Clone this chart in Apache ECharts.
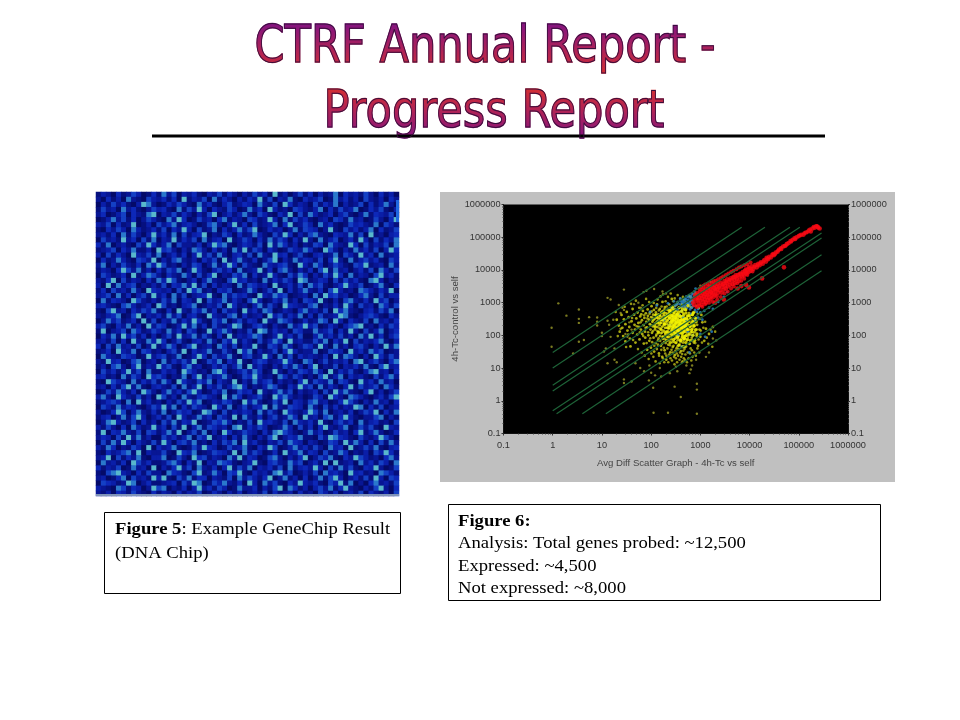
<!DOCTYPE html>
<html><head><meta charset="utf-8">
<style>html,body{margin:0;padding:0;background:#fff}#c{width:960px;height:720px}</style>
<script src="https://cdn.jsdelivr.net/npm/echarts@6/dist/echarts.min.js"></script>
</head><body><div id="c"></div>
<script>
const titleLines = ["CTRF Annual Report -", "Progress Report"];
const tickLabels = ["0.1","1","10","100","1000","10000","100000","1000000"];
const xAxisName = "Avg Diff Scatter Graph - 4h-Tc vs self";
const yAxisName = "4h-Tc-control vs self";
const caption5 = ["{b|Figure 5}: Example GeneChip Result", "(DNA Chip)"];
const caption6 = ["{b|Figure 6:}", "Analysis: Total genes probed: ~12,500", "Expressed: ~4,500", "Not expressed: ~8,000"];
const guideLines = [
 [[1,30],[6900,200000]],
 [[1,10],[20500,200000]],
 [[1,3],[66000,200000]],
 [[1,2],[105000,200000]],
 [[1,0.5],[290000,135000]],
 [[1.2,0.4],[290000,95000]],
 [[4,0.4],[290000,29000]],
 [[12,0.4],[290000,9500]]
];
const sparsePoints = [[0.95,45],[0.95,170],[1.3,950],[1.9,400],[3.4,620],[3.4,320],[3.4,240],[3.4,64],[4.3,72],[5.5,360],[2.6,28],[8,350],[8,260],[8,200],[10,120],[10,95],[11,32],[13,1400],[15,1250],[13,280],[14,210],[12,40],[13,14],[15,90],[17,300],[18,40],[18,18],[20,15],[22,850],[24,480],[26,700],[28,2500],[28,600],[28,4.5],[28,3.5],[30,110],[33,90],[36,250],[40,3.9],[40,150],[45,900],[48,14],[55,1000],[60,10],[62,700],[70,2100],[72,8],[80,2300],[90,4.2],[92,12],[100,7.2],[110,2.5],[112,0.43],[115,2600],[120,6],[150,10],[160,5.5],[170,2200],[200,1900],[220,0.43],[240,7],[300,2.7],[320,11],[340,8],[400,1.3],[420,15],[520,12],[600,7],[640,9],[680,12],[850,0.4],[850,3.3],[850,2.2],[820,18],[1000,3300],[1300,22],[1800,80],[2100,70],[1600,4300],[1500,30]];
const yellowPoints = [[20,300],[22,200],[23,130],[25,420],[26,170],[27,95],[28,310],[30,220],[30,65],[32,520],[33,140],[35,360],[36,180],[37,80],[38,46],[40,270],[42,640],[42,120],[45,430],[46,210],[47,150],[48,60],[50,330],[52,105],[53,500],[55,240],[56,180],[58,75],[60,380],[62,150],[63,440],[65,290],[66,110],[68,560],[70,205],[71,56],[73,340],[75,130],[76,85],[78,470],[80,260],[82,175],[83,36],[85,620],[86,395],[88,100],[90,300],[92,68],[94,220],[95,510],[97,150],[99,42],[100,360],[102,780],[104,120],[106,260],[108,190],[110,430],[112,85],[114,600],[115,32],[118,320],[120,150],[122,230],[124,58],[125,500],[128,105],[130,380],[132,880],[134,180],[136,270],[138,70],[140,440],[142,130],[144,28],[146,340],[148,205],[150,640],[152,95],[154,300],[156,160],[158,48],[160,480],[162,240],[164,120],[166,360],[168,22],[170,1050],[172,190],[174,78],[176,560],[178,280],[180,140],[182,410],[184,62],[186,220],[188,35],[190,730],[192,320],[194,105],[196,170],[198,480],[200,260],[203,18],[206,390],[209,130],[212,88],[215,600],[218,210],[221,300],[224,52],[227,160],[230,440],[233,880],[236,110],[239,250],[242,340],[245,30],[248,190],[251,520],[254,75],[257,140],[260,410],[263,1300],[266,230],[269,100],[272,300],[275,44],[278,640],[281,170],[284,360],[287,65],[290,210],[293,480],[296,120],[299,270],[302,25],[305,800],[308,150],[311,390],[314,85],[317,220],[320,560],[323,320],[326,110],[329,40],[332,180],[335,450],[338,260],[341,1000],[344,70],[347,140],[350,350],[355,200],[360,680],[365,95],[370,280],[375,52],[380,420],[385,160],[390,240],[395,130],[400,540],[405,33],[410,310],[415,80],[420,190],[425,900],[430,380],[435,115],[440,230],[445,60],[450,470],[455,150],[460,280],[465,1200],[470,95],[475,340],[480,175],[485,720],[490,44],[495,250],[500,130],[510,600],[520,210],[530,70],[540,390],[550,150],[560,290],[570,900],[580,105],[590,480],[600,200],[610,55],[620,330],[630,1500],[640,125],[650,240],[660,700],[670,85],[680,420],[690,160],[700,1100],[720,270],[740,60],[760,520],[780,130],[800,1900],[820,330],[840,95],[860,210],[880,1300],[900,48],[930,680],[960,150],[1000,90],[1050,420],[1100,250],[1200,68],[1300,160],[1500,110],[1800,180]];
const yellowExtra = [[19,520],[21,95],[24,160],[29,750],[31,44],[34,105],[39,920],[41,340],[43,72],[49,1150],[51,190],[54,38],[57,700],[59,125],[61,250],[64,30],[67,830],[69,95],[72,410],[74,24],[77,170],[79,1300],[81,58],[84,330],[87,125],[89,19],[91,1050],[93,460],[96,82],[98,210],[101,28],[103,540],[105,62],[107,350],[109,135],[111,22],[113,980],[116,48],[119,200],[121,420],[123,16],[126,95],[127,690],[129,260],[131,38],[133,135],[135,1250],[137,52],[139,320],[141,82],[143,580],[145,24],[147,165],[149,14],[151,420],[153,68],[155,1550],[157,240],[159,115],[161,36],[163,760],[165,180],[167,55],[169,300],[171,90],[173,20],[175,1800],[177,130],[179,420],[181,42],[183,240],[185,15],[187,640],[189,78],[191,170],[193,28],[195,360],[197,1100],[199,58],[201,130],[204,24],[207,760],[211,230],[214,40],[217,110],[220,1500],[223,15],[226,70],[229,340],[232,26],[235,195],[238,600],[241,50],[244,125],[247,20],[250,1900],[253,92],[256,270],[259,36],[262,155],[265,17],[268,720],[271,62],[274,210],[277,30],[280,1100],[283,105],[286,48],[289,390],[292,22],[295,150],[298,13],[301,1350],[304,78],[307,240],[310,34],[313,560],[316,120],[319,20],[322,185],[325,58],[328,850],[331,28],[334,125],[337,15],[340,300],[343,46],[346,1700],[349,90],[352,24],[357,150],[362,38],[367,440],[372,75],[377,18],[382,205],[387,30],[392,1300],[397,62],[402,125],[407,22],[412,760],[417,45],[422,170],[427,27],[432,95],[437,16],[442,1500],[447,230],[452,34],[457,70],[462,20],[467,125],[472,600],[477,38],[482,18],[487,210],[492,80],[497,26],[505,1000],[515,46],[525,120],[535,15],[545,260],[555,30],[565,90],[575,20],[585,1600],[595,55],[605,150],[615,28],[625,750],[635,40],[645,105],[655,17],[665,210],[675,35],[685,70],[695,22],[710,500],[730,120],[750,30],[770,250],[790,58],[810,24],[830,800],[850,150],[870,40],[890,450],[920,75],[950,30],[980,320],[1020,140],[1080,60],[1150,170],[1250,260],[1350,85],[1450,55],[1600,150],[1750,45],[2000,130]];
const yellowCore = [[110,300],[120,180],[125,420],[135,240],[140,120],[150,400],[155,300],[160,150],[165,520],[170,300],[175,90],[180,500],[185,220],[190,220],[195,120],[200,380],[205,70],[210,280],[215,170],[220,450],[225,90],[230,170],[235,560],[240,330],[245,60],[250,240],[255,600],[258,110],[260,400],[265,170],[270,140],[275,260],[280,300],[285,75],[290,500],[295,180],[300,210],[305,110],[310,350],[315,60],[320,110],[325,420],[330,260],[335,140],[340,450],[345,85],[350,170],[355,240],[360,300],[365,50],[370,700],[375,130],[380,120],[385,380],[390,230],[395,70],[400,380],[405,180],[410,160],[415,300],[420,540],[425,110],[430,90],[435,220],[440,290],[445,45],[450,200],[455,130],[460,420],[465,300],[470,140],[475,80],[480,320],[485,190],[490,250],[495,95],[500,180],[505,60],[510,480],[515,240],[520,100],[525,320],[530,340],[535,150],[540,220],[550,75],[560,150],[570,400],[580,270],[590,110],[600,400],[610,190],[620,190],[630,70],[650,320],[665,150],[680,130],[690,430],[700,260],[710,100],[720,480],[735,190],[750,200],[765,70],[780,340],[800,150],[820,260],[850,110],[220,130],[280,190],[340,90],[400,70],[460,80],[300,600],[360,520],[430,640],[500,620],[560,800],[270,720],[230,380],[190,340],[150,240],[130,350],[280,420],[320,340],[380,250],[420,210],[350,400],[300,300],[260,280],[240,200],[290,130],[330,170],[370,200],[400,280],[440,170],[480,240],[520,170],[320,240],[360,140],[270,350],[240,480],[210,400]];
const bluePoints = [[95,520],[130,820],[180,300],[220,950],[260,700],[290,1100],[310,820],[340,620],[350,1050],[380,900],[390,1350],[410,750],[420,560],[440,1150],[460,950],[470,650],[490,1300],[500,820],[520,1550],[530,1000],[540,700],[560,1200],[580,880],[590,1700],[610,1050],[620,620],[640,1350],[660,900],[680,1900],[700,1150],[720,780],[740,1450],[760,2200],[780,600],[800,2700],[850,520],[900,640],[1000,500],[1200,560],[1500,700],[1800,640],[2300,1050],[3000,1500],[3500,2100],[350,100],[420,45],[600,30],[560,130],[700,100],[1000,110],[1700,130],[1250,90],[240,210],[430,1000],[450,800],[480,1100],[510,1250],[550,950],[570,1450],[600,800],[630,1150],[650,1600],[670,700],[690,1350],[710,1000],[730,1800],[400,1100],[370,720],[330,900],[300,650],[450,350],[520,280],[380,400],[650,450],[780,280],[900,350],[1100,300]];
const redPoints = [[750,850],[800,1100],[820,1500],[850,750],[880,1250],[900,1750],[930,950],[950,1400],[980,2100],[1000,1150],[1030,1650],[1050,850],[1080,1350],[1100,1950],[1120,2500],[1150,1050],[1180,1550],[1200,2200],[1220,1250],[1250,1800],[1280,2700],[1300,1000],[1330,1500],[1360,2050],[1400,1200],[1430,2400],[1460,3000],[1500,1400],[1530,1850],[1560,2700],[1600,1250],[1640,2100],[1680,1600],[1720,3100],[1760,2400],[1800,1450],[1850,1900],[1900,2800],[1950,3500],[2000,1750],[2050,2300],[2100,3000],[2150,1600],[2200,2600],[2250,3700],[2300,2000],[2400,3200],[2500,2400],[2600,4100],[2700,2000],[2800,3000],[2900,3700],[3000,2500],[3100,4600],[3200,3300],[3300,2700],[3400,4000],[3500,5200],[3600,3100],[3800,4400],[4000,3500],[4100,5500],[4300,4800],[4500,3700],[4700,6100],[4900,5000],[5000,4000],[5200,6800],[5500,5300],[5800,7000],[6000,4500],[6300,6000],[6600,7800],[7000,6200],[7300,8600],[7700,6900],[8000,9200],[8500,7700],[9000,10300],[9500,8500],[10000,11000],[10500,9500],[11000,13000],[12000,10800],[13000,14000],[14000,12000],[15000,15500],[16000,14000],[17000,17000],[18500,15500],[20000,20000],[21500,18000],[23000,22000],[25000,25000],[27000,24000],[29000,29000],[31000,28000],[34000,34000],[37000,36000],[40000,42000],[44000,44000],[48000,52000],[52000,54000],[57000,62000],[62000,66000],[68000,76000],[75000,84000],[82000,92000],[90000,100000],[100000,108000],[112000,118000],[125000,120000],[140000,140000],[160000,160000],[175000,150000],[190000,185000],[210000,195000],[225000,215000],[245000,205000],[265000,185000],[6800,3200],[8500,3500],[9700,2900],[18000,5500],[50000,12000],[8700,8400],[5700,2700],[3000,1250],[2000,1000]];
const redExtra = [[700,1000],[730,1300],[770,1700],[860,2000],[960,2600],[1050,3000],[1150,3300],[1250,3600],[1400,3800],[1550,3400],[1700,4100],[1850,4500],[2050,4700],[2300,5200],[2600,5700],[2900,6300],[3300,7000],[3700,7800],[4200,8700],[4700,9400],[5400,10500],[6100,11800],[6800,12800],[7800,14000],[9000,15000],[10500,17000],[11500,9000],[9000,7000],[7800,5400],[6800,4700],[5600,3900],[4800,3100],[4200,2700],[3600,2200],[3100,1900],[2600,1500],[2200,1250],[1800,1050],[1500,1000],[1250,900],[1100,750],[950,800],[1400,1700],[1700,2000],[2000,2500],[2400,2900],[2800,3500],[3300,4300],[3900,5000],[4600,5900],[5300,6200],[6200,7500],[7300,7500],[8300,10500],[9500,12200],[11000,11000],[12500,12500],[14500,14000],[16500,16000],[19000,18500],[22000,24000],[24000,21000],[30000,31000],[33000,30000],[38000,39000],[43000,47000],[55000,56000],[70000,73000],[85000,86000],[105000,115000],[130000,135000],[150000,145000],[170000,175000],[200000,210000],[235000,220000],[250000,190000]];
const chipRows = [
"243152364125273614352143625314263518241362514237153426315241",
"315241732164352518243617253142538261437215346127352416324153",
"142635214873125364217352146235417326185243162537142361524731",
"263417352136452172638415326412735184231653247152634712536214",
"351246153278143625314268135247316421538162742351462137254361",
"124736251364217385126341572431652384172635213416527341263158",
"436152381241635724531267314825162347158236417352126453271642",
"215364174235261538416237152473681253413726541382163524715236",
"342517263148352716245813264152374216385142673215437261823145",
"163428351627143825361724518236415273641528317246135284162537",
"527134216385247163325148672135426183752413265174328516243617",
"234615372241856314276315241738264153126437521863142735261485",
"416253184362713525148362731452617328451362145237164283517234",
"152374216538142673241536182473251368142735426158317246352164",
"371426325174862314265137248516321743562184275136421658234173",
"243158637241526471385214635172348251673142516827341352617426",
"164235182476315327416258132647152384216375142638517243168352",
"325816243152748621351473216845231725364187235416263521784132",
"418273561324261547382615243172653418235261746213584361247215",
"251634273185434162857231546123741362815247325168423176425381",
"346172514628351726134582173645218437561234172856341257316244",
"172543186324263715428163472531684125372416538214167325284613",
"453216742351862314571243618523147263185432671325284163417526",
"216834153647215183264725163418352761243157342618573214526371",
"324571268143527361452184326715234184625371516234872135642153",
"137462351826143725385216471362541832764125237618415326173425",
"462153724183651248372516324871256314217358461253146782315264",
"281346175236427351641283574132618725341652273461528316247135",
"153728462514136283472631518243576124835261147352624173825146",
"342615183274851362145273164825316247518342263715381624357214",
"516273426138247513682341752614382165274136528317241563142837",
"235184371652314628153472263185714236158423371265418352746123",
"174326541283562371248516347215623841726153432518276314185263",
"328451267134172536381264715382146523485217613624351782463157",
"241673158243846215734125362471835214263741581326143527216834",
"163524836172253418642317851246375128314265374182536214783415",
"452317264185641327158263473126584231752641316824715342162573",
"218643172536274185326471532814273561423158264371652183527341",
"341526837214532617248153624785132476215384617253148263461752",
"126374251863147352684125371264518324736142351628473215824136",
"473185326241862417325643182751346218574231264185317642135268",
"235641718352314263857124365218473126381542673412586314273415",
"164273542136483715264318527136245817326541731625243871526134",
"312586147325271364512873162435417263185324862713425136481527",
"245137268413526184237351642817325146237518341672584213367142",
"137842361524163725481236574132618453261743528214635172452316",
"426315174238351628147265341782536412374162515832471263621843",
"281547326165247381362714185236431527864213735126341582473125",
"354162837241163524716482351527314268135472216387542163248631",
"162738415326284156372315264718352143627541431265283741516273",
"427513264181534721263854126347215386124735263174518236372145",
"215346728143362185471236542817364125183472541623751324164852",
"348162537214471263185624317382541267314258136472153864231573",
"173425186352236741528143765213482156327461352818234173526417",
"524361273418142583617325148263714352617245384162736215483126",
"216784315263317542168237416582153427836124261745318452317642",
"341257163428482163725514326173642581372415137268413526284165",
"165423871352234516387126473251841736215384352164827131573426",
"432176254138671325148352641273351426817524146372583214268315",
"324154263215243152436125314251342615234152316425134261532416"
];
const chipColors = ["#030860","#040a68","#06107e","#081694","#0a1ea8","#0d28b8","#1440c4","#2a78cc","#58b8cc","#9fe0c8"];

const chipData = [];
chipRows.forEach((r, y) => { for (let x = 0; x < r.length; x++) chipData.push([x, chipRows.length - 1 - y, +r[x]]); });
const chipCols = Array.from({length: 60}, (_, i) => i);
const chipRowIdx = chipRows.map((_, i) => i);

const chart = echarts.init(document.getElementById('c'), null, {renderer: 'canvas', width: 960, height: 720});
const labelFmt = v => tickLabels[Math.round(Math.log10(v)) + 1] ?? '';
const logAxis = (extra) => Object.assign({
  type: 'log', logBase: 10, min: 0.1, max: 1000000, gridIndex: 0,
  axisLine: {show: true, onZero: false, lineStyle: {color: '#111', width: 1}},
  axisTick: {show: true, length: 2, lineStyle: {color: '#333'}},
  minorTick: {show: true, splitNumber: 9, length: 1, lineStyle: {color: '#444'}},
  splitLine: {show: false},
  axisLabel: {color: '#333', fontSize: 9.2, fontFamily: 'Liberation Sans', margin: 3, formatter: labelFmt, showMinLabel: true, showMaxLabel: true},
  nameTextStyle: {color: '#444', fontSize: 9.6, fontFamily: 'Liberation Sans'}
}, extra);

const gradA = new echarts.graphic.LinearGradient(0,0,0,1,[{offset:0,color:'#7a1088'},{offset:1,color:'#d83030'}]);
const gradB = new echarts.graphic.LinearGradient(0,0,0,1,[{offset:0,color:'#d83030'},{offset:1,color:'#7a1088'}]);
const captionText = (text, x, y) => ({type:'text', x, y, scaleX:1.165, silent:true, z:8, style:{text, fontFamily:'Liberation Serif', fontSize:16, fill:'#000', textVerticalAlign:'middle', rich:{b:{fontWeight:'bold', fontFamily:'Liberation Serif', fontSize:16, fill:'#000'}}}});
const rect = (x,y,w,h,style,z) => ({type:'rect', z:z||0, silent:true, shape:{x,y,width:w,height:h}, style});
const box = (x,y,w,h) => rect(x+.5,y+.5,w,h,{fill:'#fff',stroke:'#000',lineWidth:1},7);
const titleFill = (t,x,y) => ({type:'text', x, y, scaleX:.83, z:3, silent:true, style:{text:t, fontFamily:'DejaVu Sans', fontSize:52, fill:'#000', stroke:'#000', lineWidth:1.4, textAlign:'center', textVerticalAlign:'middle'}});
const titleEdge = (t,x,y) => ({type:'text', x, y, scaleX:.83, z:6, silent:true, style:{text:t, fontFamily:'DejaVu Sans', fontSize:52, fill:'none', stroke:'#35103c', lineWidth:1, textAlign:'center', textVerticalAlign:'middle'}});

chart.setOption({
  animation: false,
  backgroundColor: '#fff',
  graphic: {elements: [
    rect(440,192,455,290,{fill:'#c0c0c0'},-1),
    rect(96,192,303,304,{fill:'#081694'},-1),
    titleFill(titleLines[0],485,48), titleFill(titleLines[1],494,113),
    rect(240,18,500,58,{fill:gradA, blend:'screen'},4),
    rect(240,86,500,58,{fill:gradB, blend:'screen'},4),
    rect(152,134.5,673,3,{fill:'#000'},5),
    titleEdge(titleLines[0],485,48), titleEdge(titleLines[1],494,113),
    rect(96,494,303,2,{fill:'#7f93b8'},8),
    rect(396,200,3,22,{fill:'#2068e0'},8),
    box(104,512,296,81),
    box(448,504,432,96),
    captionText(caption5[0],115,530), captionText(caption5[1],115,554),
    captionText(caption6[0],458,522), captionText(caption6[1],458,544), captionText(caption6[2],458,567), captionText(caption6[3],458,589)
  ]},
  grid: [
    {left:503.5, top:204.5, width:344.5, height:229, show:true, backgroundColor:'#000', borderWidth:0},
    {left:96, top:192, width:303, height:304, show:false}
  ],
  xAxis: [
    logAxis({name:xAxisName, nameLocation:'middle', nameGap:25, axisLabel:{color:'#333', fontSize:9.2, fontFamily:'Liberation Sans', margin:7, formatter:labelFmt, showMinLabel:true, showMaxLabel:true}}),
    {type:'category', gridIndex:1, data:chipCols, show:false}
  ],
  yAxis: [
    logAxis({name:yAxisName, nameLocation:'middle', nameGap:40}),
    logAxis({position:'right'}),
    {type:'category', gridIndex:1, data:chipRowIdx, show:false}
  ],
  visualMap: {show:false, type:'piecewise', seriesIndex:0, dimension:2, pieces: chipColors.map((color,i)=>({value:i, color}))},
  series: [
    {type:'heatmap', xAxisIndex:1, yAxisIndex:2, data:chipData, silent:true, progressive:0},
    ...guideLines.map(d => ({type:'line', xAxisIndex:0, yAxisIndex:0, data:d, showSymbol:false, silent:true, lineStyle:{color:'#1e6438', width:1.2}})),
    {type:'line', xAxisIndex:0, yAxisIndex:1, data:[], showSymbol:false},
    {type:'scatter', xAxisIndex:0, yAxisIndex:0, data:sparsePoints, symbolSize:2.4, silent:true, itemStyle:{color:'#9a9a28'}},
    {type:'scatter', xAxisIndex:0, yAxisIndex:0, data:yellowExtra, symbolSize:2.6, silent:true, itemStyle:{color:'#bcbc18'}},
    {type:'scatter', xAxisIndex:0, yAxisIndex:0, data:yellowPoints, symbolSize:2.8, silent:true, itemStyle:{color:'#d4d414'}},
    {type:'scatter', xAxisIndex:0, yAxisIndex:0, data:bluePoints, symbolSize:2.8, silent:true, itemStyle:{color:'#2a86c8'}},
    {type:'scatter', xAxisIndex:0, yAxisIndex:0, data:yellowCore, symbolSize:3.4, silent:true, itemStyle:{color:'#f4f400'}},
    {type:'scatter', xAxisIndex:0, yAxisIndex:0, data:redExtra, symbolSize:4, silent:true, itemStyle:{color:'#f00a14'}},
    {type:'scatter', xAxisIndex:0, yAxisIndex:0, data:redPoints, symbolSize:4.6, silent:true, itemStyle:{color:'#fa0a14'}}
  ]
});
</script></body></html>
